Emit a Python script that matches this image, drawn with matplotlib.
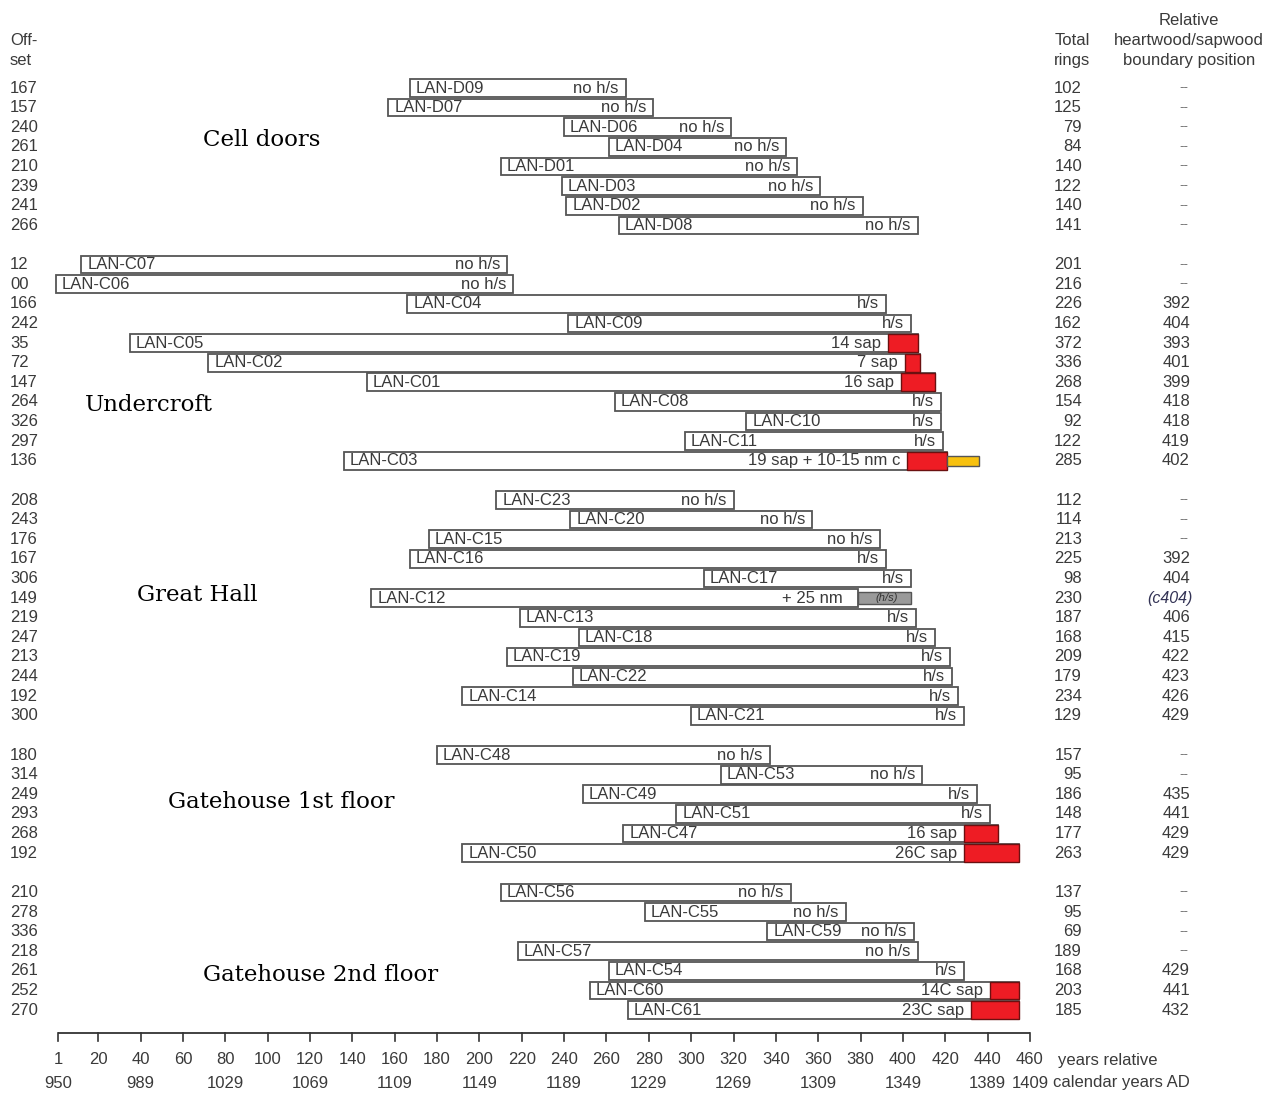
import matplotlib
matplotlib.use('Agg')
import matplotlib.pyplot as plt
import matplotlib.transforms as mtrans

# ---- data ----
groups = ['Cell doors', 'Undercroft', 'Great Hall', 'Gatehouse 1st floor', 'Gatehouse 2nd floor']

cd_names = ['LAN-D09', 'LAN-D07', 'LAN-D06', 'LAN-D04', 'LAN-D01', 'LAN-D03', 'LAN-D02', 'LAN-D08']
cd_offset = [167, 157, 240, 261, 210, 239, 241, 266]
cd_rings = [102, 125, 79, 84, 140, 122, 140, 141]
cd_hs = ['--', '--', '--', '--', '--', '--', '--', '--']
cd_note = ['no h/s'] * 8

uc_names = ['LAN-C07', 'LAN-C06', 'LAN-C04', 'LAN-C09', 'LAN-C05', 'LAN-C02', 'LAN-C01',
            'LAN-C08', 'LAN-C10', 'LAN-C11', 'LAN-C03']
uc_offset = [12, 0, 166, 242, 35, 72, 147, 264, 326, 297, 136]
uc_rings = [201, 216, 226, 162, 372, 336, 268, 154, 92, 122, 285]
uc_hs = ['--', '--', '392', '404', '393', '401', '399', '418', '418', '419', '402']
uc_note = ['no h/s', 'no h/s', 'h/s', 'h/s', '14 sap', '7 sap', '16 sap',
           'h/s', 'h/s', 'h/s', '19 sap + 10-15 nm c']

gh_names = ['LAN-C23', 'LAN-C20', 'LAN-C15', 'LAN-C16', 'LAN-C17', 'LAN-C12', 'LAN-C13',
            'LAN-C18', 'LAN-C19', 'LAN-C22', 'LAN-C14', 'LAN-C21']
gh_offset = [208, 243, 176, 167, 306, 149, 219, 247, 213, 244, 192, 300]
gh_rings = [112, 114, 213, 225, 98, 230, 187, 168, 209, 179, 234, 129]
gh_hs = ['--', '--', '--', '392', '404', '(c404)', '406', '415', '422', '423', '426', '429']
gh_note = ['no h/s', 'no h/s', 'no h/s', 'h/s', 'h/s', '+ 25 nm', 'h/s',
           'h/s', 'h/s', 'h/s', 'h/s', 'h/s']

g1_names = ['LAN-C48', 'LAN-C53', 'LAN-C49', 'LAN-C51', 'LAN-C47', 'LAN-C50']
g1_offset = [180, 314, 249, 293, 268, 192]
g1_rings = [157, 95, 186, 148, 177, 263]
g1_hs = ['--', '--', '435', '441', '429', '429']
g1_note = ['no h/s', 'no h/s', 'h/s', 'h/s', '16 sap', '26C sap']

g2_names = ['LAN-C56', 'LAN-C55', 'LAN-C59', 'LAN-C57', 'LAN-C54', 'LAN-C60', 'LAN-C61']
g2_offset = [210, 278, 336, 218, 261, 252, 270]
g2_rings = [137, 95, 69, 189, 168, 203, 185]
g2_hs = ['--', '--', '--', '--', '429', '441', '432']
g2_note = ['no h/s', 'no h/s', 'no h/s', 'no h/s', 'h/s', '14C sap', '23C sap']

# missing rings beyond the last measured ring
c03_nmc = 15    # 10-15 nm c (yellow)
c12_nm = 25     # + 25 nm (grey, h/s?)

tick_rel = [1] + list(range(20, 461, 20))
cal_rel = [1, 40, 80, 120, 160, 200, 240, 280, 320, 360, 400, 440, 460]
cal_lab = [str(r + 949) for r in cal_rel]

# ---- figure ----
W, H = 1285, 1093
fig = plt.figure(figsize=(W / 100, H / 100), dpi=100)
ax = fig.add_axes([0, 0, 1, 1])
ax.axis('off')

k = 972 / 459.0        # px per year
s = 19.62              # px per row
ax.set_xlim(1 - 58 / k, 1 + (W - 58) / k)
ax.set_ylim((H - 88) / s, -88 / s)

colx = mtrans.blended_transform_factory(fig.transFigure, ax.transData)
small = dict(family='Liberation Sans', fontsize=12, color='#3a3a3a')
edge = '#555555'
red = '#ee1c24'

all_groups = [
    (cd_names, cd_offset, cd_rings, cd_hs, cd_note, 2.65, 203),
    (uc_names, uc_offset, uc_rings, uc_hs, uc_note, 7.16, 85),
    (gh_names, gh_offset, gh_rings, gh_hs, gh_note, 4.84, 137),
    (g1_names, g1_offset, g1_rings, g1_hs, g1_note, 2.4, 168),
    (g2_names, g2_offset, g2_rings, g2_hs, g2_note, 4.2, 203),
]

row = 0
for gi, (names, offs, rings, hss, notes, ty, tx) in enumerate(all_groups):
    ax.text(tx / W, row + ty, groups[gi], transform=colx, family='DejaVu Serif',
            fontsize=16.5, color='black', ha='left', va='center')
    for i in range(len(names)):
        y = row + i
        start = offs[i]
        end = offs[i] + rings[i]
        ax.barh(y, rings[i], left=start, height=0.9, color='white',
                edgecolor=edge, linewidth=1.3, zorder=2)
        note_end = end
        if 'sap' in notes[i]:
            hs = int(hss[i])
            ax.barh(y, end - hs, left=hs, height=0.9, color=red,
                    edgecolor='#6b1010', linewidth=1.0, zorder=3)
            note_end = hs
        if names[i] == 'LAN-C03':
            ax.barh(y, c03_nmc, left=end, height=0.5, color='#f7c10f',
                    edgecolor=edge, linewidth=1.0, zorder=3)
        if names[i] == 'LAN-C12':
            ax.barh(y, c12_nm, left=end, height=0.6, color='#9a9a9a',
                    edgecolor=edge, linewidth=1.0, zorder=3)
            ax.text(end + c12_nm / 2 + 1, y, '(h/s)', fontsize=8, style='italic',
                    color='#333333', ha='center', va='center', zorder=4,
                    family='Liberation Sans')
            note_end = end - 4
        ax.text(start + 2.8, y, names[i], ha='left', va='center', zorder=4, **small)
        ax.text(note_end - 3.3, y, notes[i], ha='right', va='center', zorder=4, **small)
        # columns
        ax.text(10 / W, y, '{:02d}'.format(offs[i]), transform=colx, ha='left', va='center', **small)
        ax.text(1082 / W, y, str(rings[i]), transform=colx, ha='right', va='center', **small)
        if hss[i] == '--':
            ax.text(1184 / W, y, '--', transform=colx, ha='center', va='center',
                    family='Liberation Sans', fontsize=9.5, color='#666666')
        elif hss[i].startswith('('):
            ax.text(1193 / W, y, hss[i], transform=colx, ha='right', va='center',
                    family='Liberation Sans', fontsize=11.5, style='italic', color='#333355')
        else:
            ax.text(1190 / W, y, hss[i], transform=colx, ha='right', va='center', **small)
    row += len(names) + 1

# headers
def ypx(p):
    return (p - 88) / s

ax.text(10 / W, ypx(40), 'Off-', transform=colx, ha='left', va='center', **small)
ax.text(10 / W, ypx(60), 'set', transform=colx, ha='left', va='center', **small)
ax.text(1072 / W, ypx(40), 'Total', transform=colx, ha='center', va='center', **small)
ax.text(1072 / W, ypx(60), 'rings', transform=colx, ha='center', va='center', **small)
ax.text(1189 / W, ypx(20), 'Relative', transform=colx, ha='center', va='center', **small)
ax.text(1189 / W, ypx(40), 'heartwood/sapwood', transform=colx, ha='center', va='center', **small)
ax.text(1189 / W, ypx(60), 'boundary position', transform=colx, ha='center', va='center', **small)

# axis
ya = ypx(1033)
ax.plot([1, 460], [ya, ya], color='#333333', lw=1.3, solid_capstyle='butt')
for t in tick_rel:
    ax.plot([t, t], [ya, ypx(1041)], color='#333333', lw=1.2)
    ax.text(t, ypx(1060), str(t), ha='center', va='center', **small)
for t, lab in zip(cal_rel, cal_lab):
    ax.text(t, ypx(1083), lab, ha='center', va='center', **small)
ax.text(1058 / W, ypx(1060), 'years relative', transform=colx, ha='left', va='center', **small)
ax.text(1053 / W, ypx(1083), 'calendar years AD', transform=colx, ha='left', va='center', **small)

fig.savefig('out.png', dpi=100, facecolor='white')
